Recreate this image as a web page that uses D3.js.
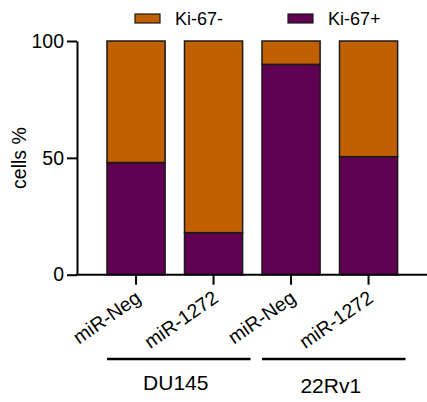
<!DOCTYPE html>
<html lang="en">
<head>
    <meta charset="utf-8">
    <title>Ki-67 stacked bars</title>
    <script src="https://d3js.org/d3.v7.min.js"></script>
    <style>
        body { margin: 0; background: #fff; }
        svg { display: block; font-family: Arial, "Liberation Sans", sans-serif; }
    </style>
</head>
<body>
<div id="chart"></div>
<script>
    // values (percent of cells)
    const samples = ['DU145 miR-Neg', 'DU145 miR-1272', '22Rv1 miR-Neg', '22Rv1 miR-1272'];
    const sampleLabels = ['miR-Neg', 'miR-1272', 'miR-Neg', 'miR-1272'];
    const kiPos = [48, 18, 90, 50.5];
    const kiNeg = kiPos.map(v => 100 - v);
    const seriesNames = ['Ki-67-', 'Ki-67+'];
    const cellLines = ['DU145', '22Rv1'];
    const yTicks = [0, 50, 100];

    const colors = {'Ki-67-': '#c06000', 'Ki-67+': '#600050'};

    const width = 427, height = 402;
    const svg = d3.select('#chart').append('svg')
        .attr('width', width).attr('height', height);

    const x = d3.scaleBand()
        .domain(samples)
        .range([97.3, 407.3])
        .paddingInner(0.25)
        .paddingOuter(0.125);

    const y = d3.scaleLinear()
        .domain([0, 100])
        .range([274.7, 41]);

    // stacked data: Ki-67+ at bottom, Ki-67- on top
    const rows = samples.map((s, i) => ({sample: s, 'Ki-67+': kiPos[i], 'Ki-67-': kiNeg[i]}));
    const stack = d3.stack().keys(['Ki-67+', 'Ki-67-'])(rows);

    svg.append('g')
        .selectAll('g')
        .data(stack)
        .join('g')
        .attr('fill', d => colors[d.key])
        .selectAll('rect')
        .data(d => d)
        .join('rect')
        .attr('x', d => x(d.data.sample))
        .attr('width', x.bandwidth())
        .attr('y', d => y(d[1]))
        .attr('height', d => y(d[0]) - y(d[1]))
        .attr('stroke', '#1a1a1a')
        .attr('stroke-width', 1.5);

    // y axis
    const yAxis = svg.append('g')
        .attr('transform', 'translate(77,0)')
        .call(d3.axisLeft(y).tickValues(yTicks).tickSize(10).tickPadding(3).tickSizeOuter(0));
    yAxis.select('.domain').attr('stroke-width', 2);
    yAxis.selectAll('.tick line').attr('stroke-width', 2);
    yAxis.selectAll('.tick text').attr('font-size', 19.5).attr('font-family', 'Arial, "Liberation Sans", sans-serif').attr('fill', '#000');

    // x axis
    svg.append('line')
        .attr('x1', 76).attr('x2', width)
        .attr('y1', y(0)).attr('y2', y(0))
        .attr('stroke', '#000').attr('stroke-width', 2);

    const xt = svg.append('g');
    samples.forEach((s, i) => {
        const cx = x(s) + x.bandwidth() / 2;
        xt.append('line')
            .attr('x1', cx).attr('x2', cx)
            .attr('y1', y(0)).attr('y2', y(0) + 10)
            .attr('stroke', '#000').attr('stroke-width', 2);
        xt.append('text')
            .attr('transform', `translate(${cx + 6},${y(0) + 26}) rotate(-35)`)
            .attr('text-anchor', 'end')
            .attr('font-size', 19.5)
            .text(sampleLabels[i]);
    });

    // group lines under the labels
    cellLines.forEach((c, g) => {
        const a = x(samples[g * 2]) + x.bandwidth() / 2;
        const b = x(samples[g * 2 + 1]) + x.bandwidth() / 2;
        svg.append('line')
            .attr('x1', a - 29).attr('x2', b + 37)
            .attr('y1', 359).attr('y2', 359)
            .attr('stroke', '#000').attr('stroke-width', 2.5);
        svg.append('text')
            .attr('x', (a + b) / 2 + 1)
            .attr('y', g === 0 ? 390 : 393)
            .attr('text-anchor', 'middle')
            .attr('font-size', 21)
            .text(c);
    });

    // y label
    svg.append('text')
        .attr('transform', 'translate(26,158) rotate(-90)')
        .attr('text-anchor', 'middle')
        .attr('font-size', 19.5)
        .text('cells %');

    // legend
    const legendX = [135, 288];
    seriesNames.forEach((n, i) => {
        svg.append('rect')
            .attr('x', legendX[i]).attr('y', 14)
            .attr('width', 25).attr('height', 9)
            .attr('fill', colors[n])
            .attr('stroke', '#1a1a1a').attr('stroke-width', 1.2);
        svg.append('text')
            .attr('x', legendX[i] + 40).attr('y', 25)
            .attr('font-size', 18)
            .text(n);
    });
</script>
</body>
</html>
